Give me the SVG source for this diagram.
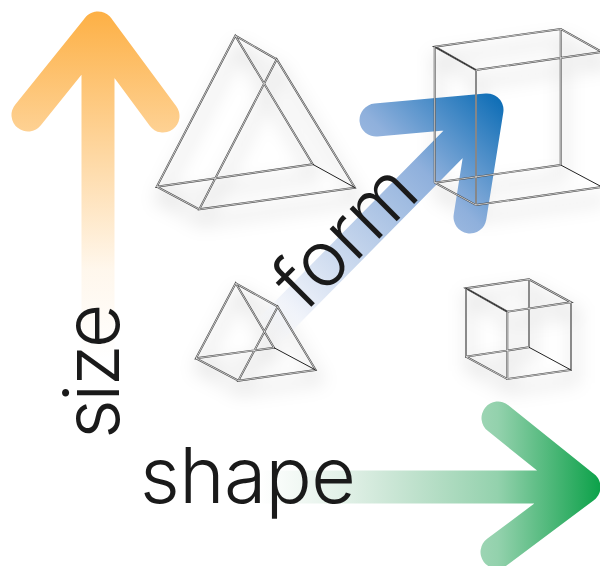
<svg xmlns="http://www.w3.org/2000/svg" width="600" height="566" viewBox="0 0 600 566">
<style>
.arrow{fill:none;stroke-width:33;stroke-linecap:round;stroke-linejoin:round}
.dbl{fill:none;stroke:#444;stroke-width:1.9}
.in{fill:none;stroke:#fff;stroke-width:.7}
.sh{fill:none;stroke:#000;stroke-opacity:.11;stroke-width:7;filter:url(#blur)}
.thin{fill:none;stroke:#222;stroke-width:1}
.lbl{font-family:Inter,"Liberation Sans",sans-serif;font-weight:300;font-size:77px;fill:#1a1a1a}
</style>
<defs>
<filter id="blur" x="-30%" y="-30%" width="160%" height="160%"><feGaussianBlur stdDeviation="9"/></filter>
<linearGradient id="go" gradientUnits="userSpaceOnUse" x1="97" y1="11" x2="97" y2="360"><stop offset="0" stop-color="#fdb045"/><stop offset=".37" stop-color="#fdb045" stop-opacity=".55"/><stop offset=".74" stop-color="#fdb045" stop-opacity=".1"/><stop offset="1" stop-color="#fdb045" stop-opacity="0"/></linearGradient>
<linearGradient id="gg" gradientUnits="userSpaceOnUse" x1="600" y1="487" x2="260" y2="487"><stop offset="0" stop-color="#0da24a"/><stop offset=".3" stop-color="#0f9a48" stop-opacity=".45"/><stop offset=".74" stop-color="#1f8f4a" stop-opacity=".14"/><stop offset="1" stop-color="#1f8f4a" stop-opacity="0"/></linearGradient>
<linearGradient id="gb" gradientUnits="userSpaceOnUse" x1="500" y1="95" x2="265" y2="335"><stop offset="0" stop-color="#0b6cb5"/><stop offset=".32" stop-color="#8fb0dc"/><stop offset=".64" stop-color="#c5d5ec"/><stop offset=".85" stop-color="#e9eef8"/><stop offset="1" stop-color="#f4f6fb" stop-opacity="0"/></linearGradient>
<path id="p1" d="M235.3 35.7L156.7 186.7L312.7 164.3ZM276.7 59.3L199.3 209.3L355 187.7ZM235.3 35.7L276.7 59.3M156.7 186.7L199.3 209.3"/>
<path id="p2" d="M434.7 46.7L560.7 29L602 52L476 70ZM434.7 182.7L560.7 165M476 205L602 187M560.7 165V29M476 70V205M434.7 46.7V182.7M434.7 182.7L476 205"/>
<path id="p3" d="M235.7 283.3L196 358.3L274 347.7ZM277.7 306.7L238.3 380.7L315.7 370ZM235.7 283.3L277.7 306.7M196 358.3L238.3 380.7"/>
<path id="p4" d="M466 288.3L529 279.3L571 302.3L507.3 311.7ZM466 288.3V356.7L529 347.3V279.3M507.3 311.7V379L571 370V302.3M466 356.7L507.3 379"/>
</defs>
<g id="shadows"><use href="#p1" class="sh" transform="translate(3,12)"/><use href="#p2" class="sh" transform="translate(3,12)"/><use href="#p3" class="sh" transform="translate(3,10)"/><use href="#p4" class="sh" transform="translate(3,10)"/></g>
<g id="connectors">
<path id="arrow-size" class="arrow" stroke="url(#go)" d="M28 115L98 28L163 116M98 28V360"/>
<path id="arrow-shape" class="arrow" stroke="url(#gg)" d="M498 418L584 487L497 552M584 487H260"/>
<path id="arrow-form" class="arrow" stroke="url(#gb)" d="M376 120L487 110L470 217M487 110L265 335"/>
</g>
<g id="shape-large-prism"><use href="#p1" class="dbl"/><use href="#p1" class="in"/><path class="thin" d="M312.7 164.3L355 187.7"/></g>
<g id="shape-large-cube"><use href="#p2" class="dbl"/><use href="#p2" class="in"/><path class="thin" d="M434.7 46.7L476 70M560.7 165L602 187"/></g>
<g id="shape-small-prism"><use href="#p3" class="dbl"/><use href="#p3" class="in"/><path class="thin" d="M274 347.7L315.7 370"/></g>
<g id="shape-small-cube"><use href="#p4" class="dbl"/><use href="#p4" class="in"/><path class="thin" d="M466 288.3L507.3 311.7M529 347.3L571 370"/></g>
<text id="label-size" class="lbl" letter-spacing="-2.5" transform="translate(119,439) rotate(-90)">size</text>
<text id="label-shape" class="lbl" letter-spacing="-.6" x="140" y="503">shape</text>
<text id="label-form" class="lbl" transform="translate(305,313) rotate(-45)">form</text>
</svg>
